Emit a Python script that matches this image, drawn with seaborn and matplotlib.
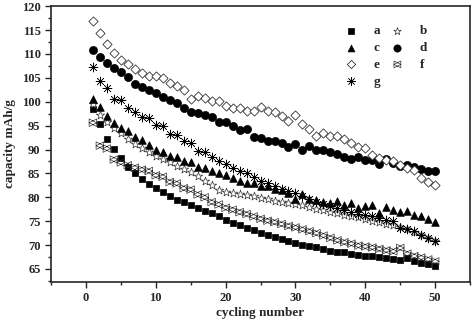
import numpy as np
import pandas as pd
import matplotlib
matplotlib.use('Agg')
import matplotlib.pyplot as plt
from matplotlib.path import Path
from matplotlib.ticker import MultipleLocator
import seaborn as sns

# cycling data
cycles = list(range(1, 51))

a = [98.4, 95.3, 92.2, 90.2, 88.3, 86.4, 85.1, 83.8, 82.8, 82.0,
     81.2, 80.3, 79.5, 79.0, 78.3, 77.8, 77.2, 76.7, 76.0, 75.2,
     74.6, 74.1, 73.6, 73.1, 72.6, 72.2, 71.7, 71.2, 70.8, 70.4,
     70.1, 69.8, 69.5, 69.1, 68.7, 68.6, 68.5, 68.2, 67.9, 67.8,
     67.7, 67.5, 67.3, 67.0, 66.8, 67.2, 66.6, 66.2, 66.0, 65.6]
b = [99.5, 97.2, 95.8, 94.6, 93.5, 92.3, 91.2, 90.3, 89.4, 88.7,
     88.0, 87.3, 86.6, 85.9, 85.2, 84.5, 83.5, 82.5, 81.6, 81.1,
     80.9, 80.7, 80.4, 80.2, 79.9, 79.6, 79.3, 79.0, 78.8, 78.6,
     78.3, 78.0, 77.6, 77.3, 77.0, 76.7, 76.4, 76.1, 75.8, 75.5,
     75.1, 74.8, 74.5, 74.2, 73.8, 73.3, 72.8, 72.2, 71.5, 70.9]
c = [100.5, 99.0, 97.0, 95.5, 94.6, 93.9, 92.7, 91.9, 90.9, 89.9,
     89.5, 88.6, 88.5, 87.6, 87.3, 86.3, 86.1, 85.4, 85.1, 84.7,
     84.0, 83.5, 83.0, 83.0, 82.4, 82.3, 81.7, 81.6, 80.9, 79.7,
     80.6, 79.7, 79.5, 79.1, 78.8, 79.2, 78.4, 78.8, 77.8, 78.1,
     78.3, 76.8, 78.0, 77.4, 76.9, 77.1, 76.2, 76.0, 75.5, 74.9]
d = [110.9, 109.4, 108.1, 107.0, 106.3, 105.2, 103.8, 103.1, 102.4, 101.8,
     101.0, 100.4, 99.7, 98.6, 97.9, 97.6, 97.3, 96.7, 95.8, 95.8,
     94.9, 94.0, 94.2, 92.7, 92.4, 91.7, 91.7, 91.3, 90.6, 91.2,
     89.9, 90.8, 89.9, 89.9, 89.4, 89.1, 88.4, 88.0, 88.4, 87.9,
     87.9, 87.0, 88.0, 87.2, 86.6, 86.8, 86.3, 85.9, 85.6, 85.6]
e = [116.8, 114.3, 112.1, 110.2, 108.8, 107.8, 106.9, 106.1, 105.3, 105.4,
     104.9, 103.9, 103.2, 102.5, 100.6, 101.3, 100.8, 100.2, 100.1, 99.1,
     98.6, 98.6, 98.0, 98.0, 99.0, 98.1, 97.9, 97.0, 95.9, 97.2,
     95.3, 94.3, 92.8, 93.4, 92.9, 92.8, 92.3, 91.3, 90.5, 90.4,
     88.9, 88.2, 87.9, 87.5, 86.8, 86.1, 85.8, 84.0, 83.3, 82.6]
f = [95.6, 90.8, 90.2, 87.9, 87.3, 86.7, 86.2, 85.8, 85.5, 84.6,
     84.3, 83.2, 82.9, 81.9, 81.6, 80.6, 80.0, 79.0, 78.5, 77.8,
     77.4, 76.9, 76.5, 76.0, 75.5, 75.1, 74.8, 74.4, 74.0, 73.7,
     73.3, 72.9, 72.5, 72.0, 71.5, 71.0, 70.6, 70.3, 69.9, 69.7,
     69.5, 69.2, 68.9, 68.7, 69.4, 68.2, 67.7, 67.4, 67.0, 66.6]
g = [107.2, 104.3, 102.8, 100.5, 100.3, 98.7, 97.9, 96.8, 96.5, 95.1,
     94.9, 93.2, 93.0, 91.7, 91.3, 89.7, 89.5, 88.5, 87.6, 86.9,
     86.2, 85.5, 85.1, 84.2, 83.5, 83.0, 82.4, 81.8, 81.4, 81.0,
     80.2, 79.6, 79.1, 78.6, 78.2, 77.8, 77.4, 77.0, 76.6, 76.3,
     76.0, 75.6, 75.3, 75.0, 73.6, 73.3, 72.9, 72.2, 71.5, 70.8]

labels = ['a', 'b', 'c', 'd', 'e', 'f', 'g']
series = [a, b, c, d, e, f, g]

# bowtie marker (two overlapping open triangles)
bowtie = Path([(-1, -1), (1, 0), (-1, 1), (-1, -1), (1, -1), (-1, 0), (1, 1), (1, -1)],
              [Path.MOVETO, Path.LINETO, Path.LINETO, Path.CLOSEPOLY,
               Path.MOVETO, Path.LINETO, Path.LINETO, Path.CLOSEPOLY])

styles = {
    'a': dict(marker='s', s=22, facecolor='black', edgecolor='black', linewidth=0.5),
    'b': dict(marker='*', s=40, facecolor='white', edgecolor='#222222', linewidth=0.45),
    'c': dict(marker='^', s=30, facecolor='black', edgecolor='black', linewidth=0.5),
    'd': dict(marker='o', s=34, facecolor='black', edgecolor='black', linewidth=0.5),
    'e': dict(marker='D', s=22, facecolor='white', edgecolor='#222222', linewidth=0.55),
    'f': dict(marker=bowtie, s=30, facecolor='none', edgecolor='#222222', linewidth=0.45),
    'g': dict(marker=(8, 2, 0), s=42, facecolor='black', edgecolor='#333333', linewidth=0.45),
}

df = pd.DataFrame({'cycle': cycles * len(labels),
                   'capacity': sum(series, []),
                   'sample': [l for l in labels for _ in cycles]})

sns.set_style('ticks')
plt.rcParams['font.family'] = ['Liberation Serif', 'DejaVu Serif']

fig, ax = plt.subplots(figsize=(4.72, 3.24), dpi=100)
fig.subplots_adjust(left=0.108, right=0.996, top=0.981, bottom=0.13)

handles = {}
for lab in labels:
    sub = df[df['sample'] == lab]
    sns.scatterplot(x='cycle', y='capacity', data=sub, ax=ax, legend=False, **styles[lab])
    handles[lab] = ax.collections[-1]

ax.set_xlim(-5, 55)
ax.set_ylim(62.3, 120)
ax.xaxis.set_major_locator(MultipleLocator(10))
ax.xaxis.set_minor_locator(MultipleLocator(5))
ax.yaxis.set_major_locator(MultipleLocator(5))
ax.yaxis.set_minor_locator(MultipleLocator(2.5))
ax.tick_params(which='major', direction='out', length=4, width=1, labelsize=9)
ax.tick_params(which='minor', direction='out', length=2.5, width=1)
for lbl in ax.get_xticklabels() + ax.get_yticklabels():
    lbl.set_fontweight('bold')
for sp in ax.spines.values():
    sp.set_visible(True)
    sp.set_linewidth(1.2)

ax.set_xlabel('cycling number', fontsize=9.5, fontweight='bold', labelpad=2)
ax.set_ylabel('capacity mAh/g', fontsize=9.5, fontweight='bold')

order = ['a', 'c', 'e', 'g', 'b', 'd', 'f']
leg = ax.legend([handles[k] for k in order], order, ncol=2, loc='upper right',
                bbox_to_anchor=(0.926, 0.975), frameon=False, handlelength=1.0,
                handletextpad=1.2, columnspacing=0.8, labelspacing=0.35,
                markerscale=0.9, prop={'weight': 'bold', 'size': 9.5})

fig.savefig('out.png', dpi=100)
